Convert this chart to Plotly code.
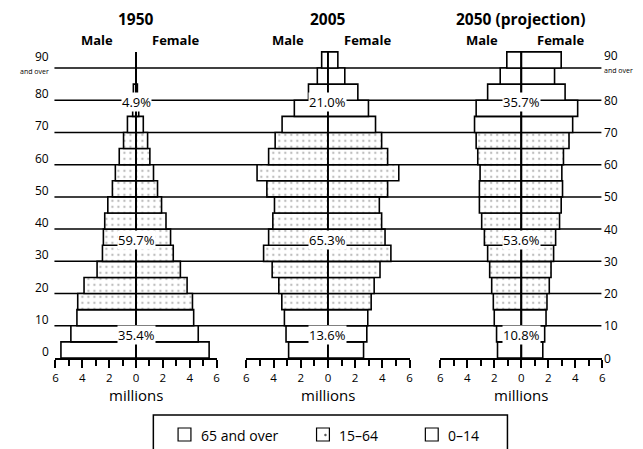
import plotly.graph_objects as go

# ---------------- data ----------------
age_groups = ["0-4", "5-9", "10-14", "15-19", "20-24", "25-29", "30-34", "35-39",
              "40-44", "45-49", "50-54", "55-59", "60-64", "65-69", "70-74",
              "75-79", "80-84", "85-89", "90+"]
age_starts = [0, 5, 10, 15, 20, 25, 30, 35, 40, 45, 50, 55, 60, 65, 70, 75, 80, 85, 90]

male_1950 = [5.59, 4.85, 4.4, 4.34, 3.87, 2.9, 2.5, 2.43, 2.33, 2.1, 1.76, 1.54, 1.25,
             0.93, 0.64, 0.25, 0.2, 0.0, 0.0]
female_1950 = [5.44, 4.63, 4.29, 4.2, 3.8, 3.3, 2.77, 2.57, 2.23, 1.9, 1.6, 1.3, 1.03,
               0.86, 0.54, 0.2, 0.1, 0.0, 0.0]

male_2005 = [2.89, 3.08, 3.2, 3.39, 3.61, 4.1, 4.73, 4.36, 4.05, 3.93, 4.49, 5.21, 4.36,
             3.88, 3.37, 2.47, 1.43, 0.78, 0.46]
female_2005 = [2.62, 2.86, 2.93, 3.18, 3.4, 3.83, 4.63, 4.2, 3.95, 3.78, 4.39, 5.21, 4.39,
               3.95, 3.5, 2.98, 2.2, 1.24, 0.73]

male_2050 = [1.76, 1.83, 2.0, 2.07, 2.19, 2.34, 2.49, 2.73, 2.93, 3.1, 3.1, 3.05, 3.22,
             3.34, 3.46, 3.34, 2.49, 1.56, 1.07]
female_2050 = [1.59, 1.73, 1.83, 1.9, 2.07, 2.2, 2.39, 2.54, 2.83, 2.95, 3.05, 3.0, 3.12,
               3.53, 3.8, 4.17, 3.24, 2.46, 2.95]

# stippled (working-age) groups as drawn in the reference
stippled = [False, False, False] + [True] * 11 + [False] * 5

panel_titles = ["1950", "2005", "2050 (projection)"]
share_old = ["4.9%", "21.0%", "35.7%"]
share_work = ["59.7%", "65.3%", "53.6%"]
share_young = ["35.4%", "13.6%", "10.8%"]

tick_vals = [-6, -4, -2, 0, 2, 4, 6]
tick_text = ["6", "4", "2", "0", "2", "4", "6"]
age_ticks = [0, 10, 20, 30, 40, 50, 60, 70, 80, 90]
legend_labels = ["65 and over", "15\u201364", "0\u201314"]

# ---------------- layout helpers ----------------
W, H = 643, 449
FONT = "Open Sans"


def fx(px):
    return px / W


def fy(py):
    return 1 - py / H


Y0_PX = 358.0          # pixel row of age 0
PX_PER_YEAR = 3.222
Y_TOP = 100
y_domain = [fy(Y0_PX), fy(Y0_PX - PX_PER_YEAR * Y_TOP)]

panel_px = [(53, 216), (246, 411), (442, 606)]
axis_names = ["x", "x2", "x3"]
layout_axis = ["xaxis", "xaxis2", "xaxis3"]

mids = [a + 2.5 for a in age_starts]
pattern_shapes = ["." if s else "" for s in stippled]

fig = go.Figure()

data = [(male_1950, female_1950), (male_2005, female_2005), (male_2050, female_2050)]

for i, (m, f) in enumerate(data):
    for vals, sign, name in [(m, -1, "Male"), (f, 1, "Female")]:
        fig.add_trace(go.Bar(
            orientation="h",
            y=mids,
            x=[sign * v for v in vals],
            width=5,
            xaxis=axis_names[i],
            yaxis="y",
            name=f"{panel_titles[i]} {name}",
            showlegend=False,
            hoverinfo="skip",
            marker=dict(
                color="white",
                line=dict(color="black", width=1.6),
                pattern=dict(shape=pattern_shapes, fgcolor="#7a7a7a",
                             bgcolor="white", size=6, solidity=0.12),
            ),
        ))

axis_common = dict(
    range=[-6, 6], anchor="y", tickmode="array", tickvals=tick_vals, ticktext=tick_text,
    ticks="outside", ticklen=8, tickwidth=1.5, tickcolor="black",
    minor=dict(dtick=1, tick0=0, ticks="outside", ticklen=6, tickwidth=1.5, tickcolor="black"),
    showline=True, linewidth=2, linecolor="black", showgrid=False, zeroline=False,
    tickfont=dict(family=FONT, size=11.5, color="black"), fixedrange=True,
)

layout = dict(
    width=W, height=H, margin=dict(l=0, r=0, t=0, b=0),
    paper_bgcolor="white", plot_bgcolor="rgba(0,0,0,0)",
    barmode="relative", showlegend=False,
    yaxis=dict(domain=y_domain, range=[0, Y_TOP], visible=False, fixedrange=True),
)
for i, (a, b) in enumerate(panel_px):
    layout[layout_axis[i]] = dict(axis_common, domain=[fx(a), fx(b)])
fig.update_layout(**layout)

shapes = []
annotations = []


def ann(text, x, y, xref="paper", yref="paper", size=12, xanchor="center",
        yanchor="middle", **kw):
    annotations.append(dict(text=text, x=x, y=y, xref=xref, yref=yref, showarrow=False,
                            xanchor=xanchor, yanchor=yanchor,
                            font=dict(family=FONT, size=size, color="black"), **kw))


# horizontal age lines across the whole figure
for a in age_ticks[1:]:
    shapes.append(dict(type="line", xref="paper", yref="y", x0=fx(52), x1=fx(605),
                       y0=a, y1=a, line=dict(color="black", width=1.5), layer="below"))

for i, (a, b) in enumerate(panel_px):
    xr = axis_names[i]
    cx = (a + b) / 2
    # vertical centre line
    shapes.append(dict(type="line", xref=xr, yref="y", x0=0, x1=0, y0=0, y1=95,
                       line=dict(color="black", width=1.8), layer="above"))
    ann(f"<b>{panel_titles[i]}</b>", fx(cx), fy(19), size=15.5)
    ann("<b>Male</b>", -2.9, fy(40), xref=xr, size=13)
    ann("<b>Female</b>", 2.9, fy(40), xref=xr, size=13)
    for txt, yy in [(share_old[i], 79.5), (share_work[i], 36.5), (share_young[i], 7.0)]:
        ann(txt, 0, yy, xref=xr, yref="y", size=13, bgcolor="white", borderpad=0)
    ann("millions", fx(cx), fy(395), size=15)

# age labels left and right
for a in age_ticks:
    if a < 90:
        ann(str(a), fx(48), a, yref="y", xanchor="right", yanchor="bottom", yshift=-3,
            borderpad=0)
        ann(str(a), fx(607), a, yref="y", xanchor="left", yanchor="middle", borderpad=0)
# "90 and over" at both sides
ann("90", fx(48), fy(66), xanchor="right", yanchor="bottom", borderpad=0)
ann("and over", fx(48), fy(71.5), xanchor="right", size=7, borderpad=0)
ann("90", fx(607), fy(64.5), xanchor="left", yanchor="bottom", borderpad=0)
ann("and over", fx(607), fy(70.5), xanchor="left", size=7, borderpad=0)

# legend box (manual)
shapes.append(dict(type="rect", xref="paper", yref="paper", x0=fx(152), x1=fx(510),
                   y0=fy(470), y1=fy(415), line=dict(color="black", width=1.5),
                   fillcolor="rgba(0,0,0,0)"))
legend_sq_x = [177, 317, 427]
legend_txt_x = [198, 338, 448]
for k in range(3):
    shapes.append(dict(type="rect", xref="paper", yref="paper", x0=fx(legend_sq_x[k]),
                       x1=fx(legend_sq_x[k] + 13), y0=fy(441), y1=fy(428),
                       line=dict(color="black", width=1.2), fillcolor="white"))
    ann(legend_labels[k], fx(legend_txt_x[k]), fy(435), xanchor="left", size=14)
# stipple dot in the 15-64 key
shapes.append(dict(type="circle", xref="paper", yref="paper", x0=fx(325), x1=fx(327),
                   y0=fy(436), y1=fy(434), line=dict(color="#555", width=0.5),
                   fillcolor="#555"))

fig.update_layout(shapes=shapes, annotations=annotations)
fig.write_html("out.html", config={"displayModeBar": False},
               post_script="document.body.style.margin='0';")
